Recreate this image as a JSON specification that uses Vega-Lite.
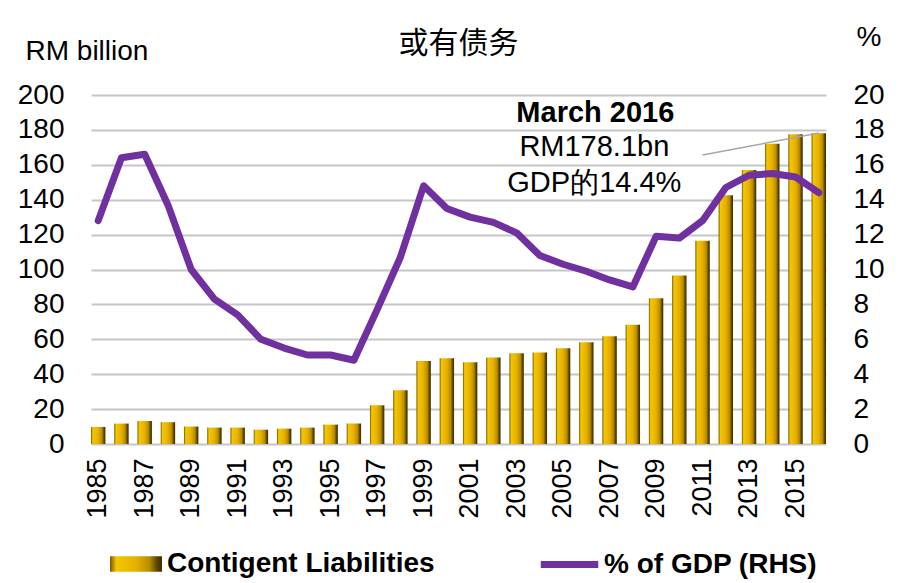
{
  "$schema": "https://vega.github.io/schema/vega-lite/v6.json",
  "width": 735,
  "height": 349,
  "autosize": {"type": "none"},
  "padding": {"left": 91, "top": 95, "right": 78, "bottom": 139},
  "background": "white",
  "config": {
    "view": {"stroke": null},
    "font": "Liberation Sans",
    "axis": {"labelFont": "Liberation Sans", "titleFont": "Liberation Sans", "labelColor": "black", "titleColor": "black"}
  },
  "title": {
    "text": "或有债务",
    "font": "Noto Sans CJK SC",
    "fontSize": 30,
    "fontWeight": "normal",
    "color": "black",
    "anchor": "middle",
    "baseline": "alphabetic",
    "offset": -60
  },
  "datasets": {
    "main": [
      {"year": "1985", "cl": 9.8, "gdp": 12.8},
      {"year": "1986", "cl": 11.7, "gdp": 16.4},
      {"year": "1987", "cl": 13.2, "gdp": 16.6},
      {"year": "1988", "cl": 12.5, "gdp": 13.7},
      {"year": "1989", "cl": 10.0, "gdp": 10.0},
      {"year": "1990", "cl": 9.4, "gdp": 8.3},
      {"year": "1991", "cl": 9.4, "gdp": 7.4},
      {"year": "1992", "cl": 8.2, "gdp": 6.0},
      {"year": "1993", "cl": 8.8, "gdp": 5.5},
      {"year": "1994", "cl": 9.4, "gdp": 5.1},
      {"year": "1995", "cl": 11.1, "gdp": 5.1},
      {"year": "1996", "cl": 11.7, "gdp": 4.8},
      {"year": "1997", "cl": 22.2, "gdp": 7.7},
      {"year": "1998", "cl": 30.8, "gdp": 10.7},
      {"year": "1999", "cl": 47.5, "gdp": 14.8},
      {"year": "2000", "cl": 49.1, "gdp": 13.5},
      {"year": "2001", "cl": 46.8, "gdp": 13.0},
      {"year": "2002", "cl": 49.5, "gdp": 12.7},
      {"year": "2003", "cl": 52.0, "gdp": 12.1},
      {"year": "2004", "cl": 52.5, "gdp": 10.8},
      {"year": "2005", "cl": 54.8, "gdp": 10.3},
      {"year": "2006", "cl": 58.3, "gdp": 9.9},
      {"year": "2007", "cl": 61.7, "gdp": 9.4},
      {"year": "2008", "cl": 68.4, "gdp": 9.0},
      {"year": "2009", "cl": 83.5, "gdp": 11.9},
      {"year": "2010", "cl": 96.5, "gdp": 11.8},
      {"year": "2011", "cl": 116.5, "gdp": 12.8},
      {"year": "2012", "cl": 142.5, "gdp": 14.7},
      {"year": "2013", "cl": 157.0, "gdp": 15.4},
      {"year": "2014", "cl": 172.0, "gdp": 15.5},
      {"year": "2015", "cl": 177.5, "gdp": 15.3},
      {"year": "2016", "cl": 178.1, "gdp": 14.4}
    ]
  },
  "layer": [
    {
      "encoding": {
        "x": {
          "field": "year",
          "type": "ordinal",
          "scale": {"paddingInner": 0.38, "paddingOuter": 0},
          "axis": {
            "title": null,
            "labelAngle": -90,
            "labelFontSize": 27,
            "labelPadding": 14,
            "ticks": false,
            "domain": false,
            "labelExpr": "(+datum.value) % 2 == 1 ? datum.value : ''",
            "labelBaseline": "middle",
            "labelAlign": "right"
          }
        },
        "y": {
          "field": "cl",
          "type": "quantitative",
          "scale": {"domain": [0, 200], "nice": false},
          "axis": {
            "values": [0, 20, 40, 60, 80, 100, 120, 140, 160, 180, 200],
            "labelOverlap": false,
            "labelFontSize": 28,
            "labelPadding": 27,
            "labelBaseline": "middle",
            "ticks": false,
            "domain": false,
            "gridColor": "#c6c6c6",
            "gridWidth": 2,
            "title": "RM billion",
            "titleAngle": 0,
            "titleAlign": "left",
            "titleBaseline": "alphabetic",
            "titleFontSize": 28,
            "titleFontWeight": "normal",
            "titleX": -66,
            "titleY": -36
          }
        }
      },
      "layer": [
        {
          "data": {"name": "main"},
          "mark": {
            "type": "bar",
            "color": {"gradient": "linear", "x1": 0, "y1": 0, "x2": 1, "y2": 0, "stops": [
              {"offset": 0, "color": "#6e5600"},
              {"offset": 0.12, "color": "#f5c600"},
              {"offset": 0.5, "color": "#e6b000"},
              {"offset": 0.76, "color": "#b88c00"},
              {"offset": 0.9, "color": "#5e4700"},
              {"offset": 1, "color": "#3a2c00"}
            ]}
          },
          "encoding": {
            "opacity": {
              "datum": "Contigent Liabilities",
              "type": "ordinal",
              "scale": {"domain": ["Contigent Liabilities"], "range": [1]},
              "legend": {
                "title": null,
                "orient": "none",
                "legendX": 19,
                "legendY": 443,
                "symbolType": "M-1,-0.3L1,-0.3L1,0.3L-1,0.3Z",
                "symbolSize": 2700,
                "symbolStrokeWidth": 0,
                "labelFontSize": 28,
                "labelFontWeight": "bold",
                "labelColor": "black",
                "labelFont": "Liberation Sans",
                "labelOffset": 5,
                "labelLimit": 400,
                "encode": {
                  "symbols": {
                    "update": {
                      "fill": {"value": {"gradient": "linear", "x1": 0, "y1": 0, "x2": 0, "y2": 1, "stops": [
                        {"offset": 0, "color": "#ffd200"},
                        {"offset": 0.3, "color": "#f0c000"},
                        {"offset": 0.7, "color": "#d0a000"},
                        {"offset": 1, "color": "#7a5e00"}
                      ]}},
                      "opacity": {"value": 1}
                    }
                  }
                }
              }
            }
          }
        },
        {
          "data": {"values": [
            {"year": "2011", "cl": 165.6},
            {"year": "2016", "cl": 178.2}
          ]},
          "mark": {"type": "line", "color": "#a6a6a6", "strokeWidth": 1.5},
          "encoding": {}
        },
        {
          "data": {"values": [
            {"year": "2006", "cl": 184.5, "label": "March 2016"}
          ]},
          "mark": {"type": "text", "fontSize": 29, "fontWeight": "bold", "font": "Liberation Sans", "align": "center", "baseline": "alphabetic", "dx": 9, "color": "black"},
          "encoding": {
            "text": {"field": "label"}
          }
        },
        {
          "data": {"values": [
            {"year": "2006", "cl": 165.0, "label": "RM178.1bn"},
            {"year": "2006", "cl": 144.4, "label": "GDP的14.4%"}
          ]},
          "mark": {"type": "text", "fontSize": 29, "font": "Liberation Sans", "align": "center", "baseline": "alphabetic", "dx": 8, "color": "black"},
          "encoding": {
            "text": {"field": "label"}
          }
        }
      ]
    },
    {
      "data": {"name": "main"},
      "mark": {"type": "line", "strokeWidth": 7, "strokeCap": "round", "strokeJoin": "round"},
      "encoding": {
        "x": {"field": "year", "type": "ordinal"},
        "y": {
          "field": "gdp",
          "type": "quantitative",
          "scale": {"domain": [0, 20], "nice": false},
          "axis": {
            "orient": "right",
            "values": [0, 2, 4, 6, 8, 10, 12, 14, 16, 18, 20],
            "labelOverlap": false,
            "labelFontSize": 28,
            "labelPadding": 27,
            "labelAlign": "left",
            "labelBaseline": "middle",
            "ticks": false,
            "domain": false,
            "grid": false,
            "title": "%",
            "titleAngle": 0,
            "titleAlign": "left",
            "titleBaseline": "alphabetic",
            "titleFontSize": 28,
            "titleFontWeight": "normal",
            "titleX": 30,
            "titleY": -50
          }
        },
        "stroke": {
          "datum": "% of GDP (RHS)",
          "scale": {"domain": ["% of GDP (RHS)"], "range": ["#7030a0"]},
          "legend": {
            "title": null,
            "orient": "none",
            "legendX": 446,
            "legendY": 437,
            "symbolType": "stroke",
            "symbolSize": 3300,
            "symbolStrokeWidth": 7,
            "labelFontSize": 28,
            "labelFontWeight": "bold",
            "labelColor": "black",
            "labelFont": "Liberation Sans",
            "labelOffset": 2,
            "labelLimit": 400
          }
        }
      }
    }
  ],
  "resolve": {"scale": {"y": "independent"}}
}
